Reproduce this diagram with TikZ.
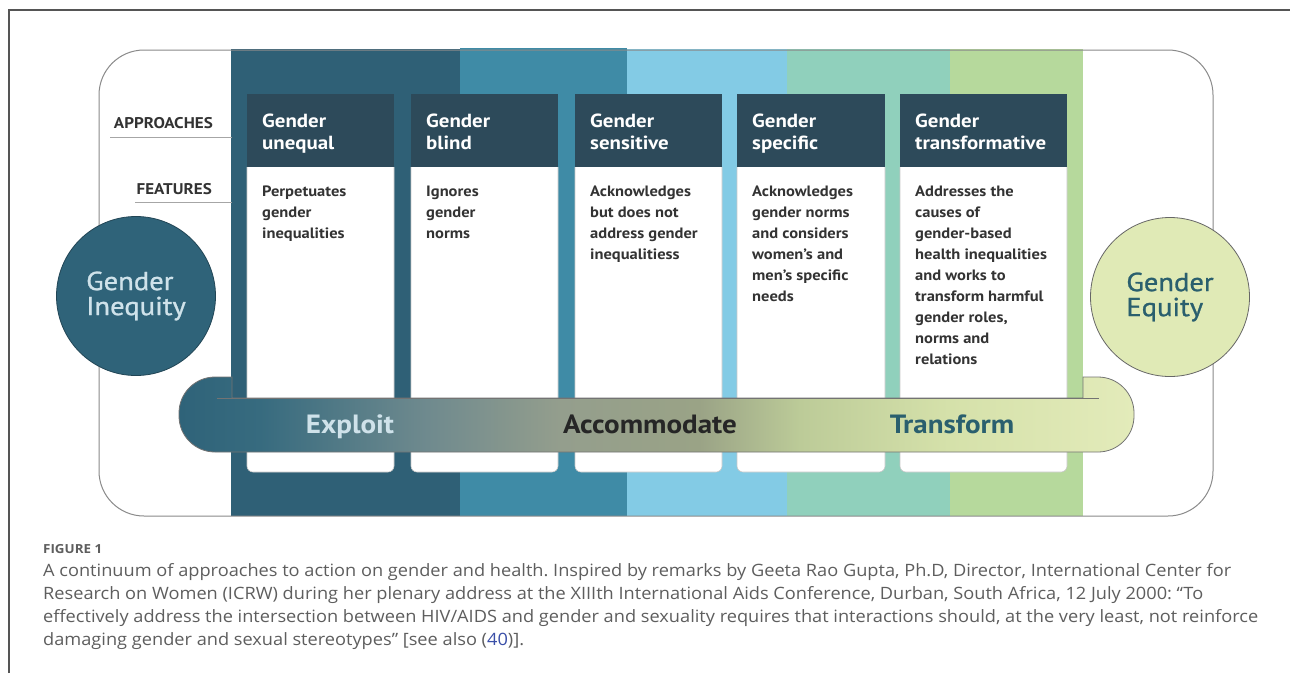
\documentclass[tikz,border=0pt]{standalone}
\usepackage{fontspec}
\setmainfont{PT Sans}[FakeStretch=1.1]
\newfontfamily\circfont{PT Sans}[FakeStretch=1.1, FakeBold=1]
\newfontfamily\capfont{Open Sans}[FakeStretch=1.07]
\frenchspacing
\definecolor{bandA}{HTML}{2F6076}
\definecolor{bandB}{HTML}{3F8BA6}
\definecolor{bandC}{HTML}{83CBE5}
\definecolor{bandD}{HTML}{90D0BC}
\definecolor{bandE}{HTML}{B6D99C}
\definecolor{hdrcol}{HTML}{2D4A5A}
\definecolor{ineqfill}{HTML}{2F6379}
\definecolor{ineqtext}{HTML}{CFE2EA}
\definecolor{eqfill}{HTML}{E0EAB6}
\definecolor{eqtext}{HTML}{2A5F6E}
\definecolor{bodygray}{HTML}{333333}
\definecolor{boxline}{HTML}{8A8A8A}
\definecolor{framecol}{HTML}{555555}
\definecolor{capgray}{HTML}{5E5E5E}
\definecolor{linkblue}{HTML}{3A4FA8}
\definecolor{barcA}{HTML}{2F6379}
\definecolor{barcB}{HTML}{376B7F}
\definecolor{barcC}{HTML}{6F8A8E}
\definecolor{barcD}{HTML}{949E8D}
\definecolor{barcE}{HTML}{9AA386}
\definecolor{barcF}{HTML}{BCCB98}
\definecolor{barcG}{HTML}{D5E1AA}
\definecolor{barcH}{HTML}{E3EBBA}
\pgfdeclarehorizontalshading{barshade}{100bp}{color(0bp)=(barcA); color(25bp)=(barcA); color(29.25bp)=(barcB); color(38bp)=(barcC); color(45bp)=(barcD); color(52.25bp)=(barcE); color(57.5bp)=(barcF); color(65.3bp)=(barcG); color(75bp)=(barcH); color(100bp)=(barcH)}
\tikzset{
  hdrtxt/.style={anchor=north west, inner sep=0, align=left, text=white, font=\bfseries\fontsize{19}{21.5}\selectfont},
  bodytxt/.style={anchor=north west, inner sep=0, align=left, text=bodygray, font=\bfseries\fontsize{15}{21}\selectfont},
  sidelbl/.style={anchor=base east, inner sep=0, text=bodygray, font=\bfseries\fontsize{15.5}{17}\selectfont},
  bartxt/.style={anchor=base, inner sep=0, font=\bfseries\fontsize{26.4}{30}\selectfont},
  bigcirc/.style={circle, minimum size=159pt, inner sep=0, align=left, line width=0.8pt, font=\circfont\fontsize{26}{25}\selectfont},
  captxt/.style={anchor=base west, inner sep=0, text=capgray, font=\capfont\fontsize{17}{20}\selectfont},
  cardbody/.style={fill=white, draw=black!22, line width=0.6pt, rounded corners=6pt}
}
\begin{document}
\begin{tikzpicture}[x=1pt,y=-1pt]
\useasboundingbox (0,0) rectangle (1290,673);
\fill[white] (0,0) rectangle (1290,673);
% figure frame
\draw[framecol, line width=1.2pt] (9,673) -- (9,10) -- (1290,10);
% colour bands
\fill[bandA] (231,49) rectangle (460,516);
\fill[bandB] (460,48) rectangle (627,516);
\fill[bandC] (627,49) rectangle (787,516);
\fill[bandD] (787,49) rectangle (950,516);
\fill[bandE] (950,49) rectangle (1083,516);
% outer rounded box
\draw[boxline, line width=1pt, rounded corners=45pt] (99,50) rectangle (1213,516);
% side labels
\node[sidelbl] (appr) at (213,128) {APPROACHES};
\node[sidelbl] (feat) at (212,194) {FEATURES};
\coordinate (apprL) at (110,137);
\coordinate (apprR) at (232,137);
\coordinate (featL) at (135,202);
\coordinate (featR) at (232,202);
\draw[black!35, line width=0.8pt] (apprL) -- (apprR);
\draw[black!35, line width=0.8pt] (featL) -- (featR);
% cards
\foreach \x/\w in {247/147, 411/147, 575/147, 737/148, 900/167}{
  \fill[hdrcol] (\x,94) rectangle (\x+\w,167);
  \path[cardbody] (\x,167) -- (\x,472) -- (\x+\w,472) -- (\x+\w,167);
}
\node[hdrtxt] (h1) at (262,114) {Gender\\unequal};
\node[hdrtxt] (h2) at (426,114) {Gender\\blind};
\node[hdrtxt] (h3) at (590,114) {Gender\\sensitive};
\node[hdrtxt] (h4) at (752,114) {Gender\\specific};
\node[hdrtxt] (h5) at (915,114) {Gender\\transformative};
\node[bodytxt] (b1) at (262,186) {Perpetuates\\gender\\inequalities};
\node[bodytxt] (b2) at (426,186) {Ignores\\gender\\norms};
\node[bodytxt] (b3) at (590,186) {Acknowledges\\but does not\\address gender\\inequalitiess};
\node[bodytxt] (b4) at (752,186) {Acknowledges\\gender norms\\and considers\\women’s and\\men’s specific\\needs};
\node[bodytxt] (b5) at (915,186) {Addresses the\\causes of\\gender-based\\health inequalities\\and works to\\transform harmful\\gender roles,\\norms and\\relations};
% continuum bar
\shade[shading=barshade, draw=black!55, line width=0.8pt]
  (232,398) -- (232,377) -- (215,377)
  .. controls (195.1,377) and (179,393.1) .. (179,413) -- (179,416)
  .. controls (179,435.9) and (195.1,452) .. (215,452) -- (1098,452)
  .. controls (1117.9,452) and (1134,435.9) .. (1134,416) -- (1134,413)
  .. controls (1134,393.1) and (1117.9,377) .. (1098,377) -- (1083,377) -- (1083,398) -- cycle;
\coordinate (barlineL) at (217,398);
\coordinate (barlineR) at (1099,398);
\draw[black!55, line width=0.8pt] (barlineL) -- (barlineR);
\node[bartxt, text=ineqtext] (exploit) at (350,433) {Exploit};
\node[bartxt, text=black!85] (accom) at (650,433) {Accommodate};
\node[bartxt, text=eqtext] (transf) at (952,433) {Transform};
% end circles
\node[bigcirc, fill=ineqfill, draw=ineqfill!70!black, text=ineqtext] (ineq) at (136,296) {Gender\\Inequity};
\node[bigcirc, fill=eqfill, draw=black!60, text=eqtext] (eq) at (1170,297) {Gender\\Equity};
% caption
\node[anchor=base west, inner sep=0, text=capgray, font=\capfont\bfseries\fontsize{12.5}{14}\selectfont] (fig) at (43,553) {FIGURE 1};
\node[captxt] (c1) at (43,576) {A continuum of approaches to action on gender and health. Inspired by remarks by Geeta Rao Gupta, Ph.D, Director, International Center for};
\node[captxt] (c2) at (43,599) {Research on Women (ICRW) during her plenary address at the XIIIth International Aids Conference, Durban, South Africa, 12 July 2000: “To};
\node[captxt] (c3) at (43,622) {effectively address the intersection between HIV/AIDS and gender and sexuality requires that interactions should, at the very least, not reinforce};
\node[captxt] (c4) at (43,645) {damaging gender and sexual stereotypes” [see also (\textcolor{linkblue}{40})].};
\end{tikzpicture}
\end{document}
